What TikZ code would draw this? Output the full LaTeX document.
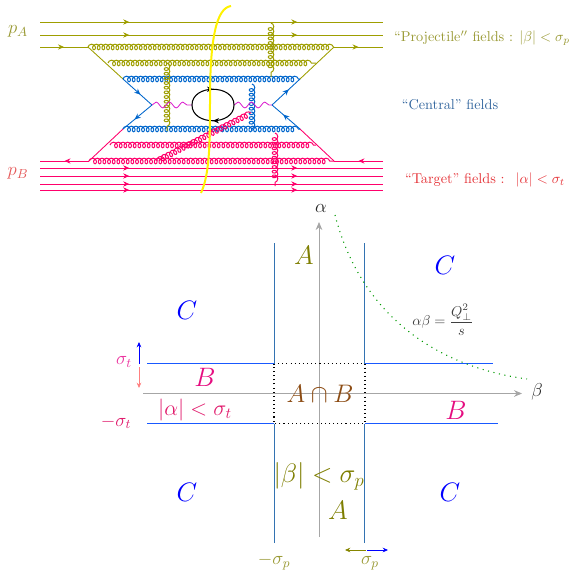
\RequirePackage{fix-cm}
\documentclass[tikz,border=0pt]{standalone}
\usepackage{amsmath}
\usepackage{amssymb}
\usepackage{tikz}
\usetikzlibrary{arrows.meta, decorations.pathmorphing, decorations.markings}

\definecolor{projcol}{rgb}{0.62,0.62,0.0}
\definecolor{targcol}{rgb}{1.0,0.0,0.42}
\definecolor{centcol}{rgb}{0.0,0.40,0.80}
\definecolor{linecol}{rgb}{0.20,0.45,0.70}
\definecolor{horizcol}{rgb}{0.10,0.35,1.0}
\definecolor{brancol}{rgb}{0.55,0.30,0.08}
\definecolor{photcol}{rgb}{0.85,0.10,0.80}
\definecolor{oltext}{rgb}{0.60,0.60,0.20}
\definecolor{cntext}{rgb}{0.20,0.40,0.62}
\definecolor{rdtext}{rgb}{0.90,0.20,0.22}
\definecolor{pbtext}{rgb}{0.90,0.35,0.35}
\definecolor{bregion}{rgb}{0.90,0.05,0.50}
\definecolor{alphatext}{rgb}{0.88,0.10,0.42}
\definecolor{sigtext}{rgb}{0.92,0.20,0.62}

\begin{document}
\begin{tikzpicture}[
    x=0.75pt, y=-0.75pt,
    tip/.style={-{Stealth[length=4pt,width=3.5pt]}},
    arrowat/.style={postaction={decorate, decoration={markings, mark=at position #1 with {\arrow{Stealth[length=4.5pt,width=4pt]}}}}},
    arrowpair/.style 2 args={postaction={decorate, decoration={markings, mark=at position #1 with {\arrow{Stealth[length=4.5pt,width=4pt]}}, mark=at position #2 with {\arrow{Stealth[length=4.5pt,width=4pt]}}}}},
    gluon/.style={decorate, decoration={coil, aspect=0.9, segment length=3.5pt, amplitude=2.1pt}, line width=0.75pt},
    photon/.style={decorate, decoration={snake, segment length=10pt, amplitude=2.2pt}, line width=0.6pt, photcol},
    axisline/.style={gray!70, line width=0.6pt, -{Stealth[length=6pt,width=5pt]}},
    vertline/.style={linecol, line width=0.7pt},
    horizline/.style={horizcol, line width=0.9pt},
    big/.style={font=\fontsize{20}{24}\selectfont},
    mid/.style={font=\fontsize{16.5}{18}\selectfont},
    side/.style={font=\fontsize{14}{16}\selectfont},
    toplabel/.style={font=\fontsize{10.7}{12}\selectfont},
]
\useasboundingbox (0,0) rectangle (571,571);

% ============ Vertices of the diagram ============
\coordinate (pl) at (88,47);
\coordinate (pr) at (334,47);
\coordinate (ql) at (108,63);
\coordinate (qr) at (316,63);
\coordinate (cl) at (123,79);
\coordinate (cr) at (300,79);
\coordinate (dl) at (123,129);
\coordinate (dr) at (300,129);
\coordinate (sl) at (110,145);
\coordinate (sr) at (316,145);
\coordinate (tl) at (89,161);
\coordinate (tr) at (334,161);
\coordinate (vl) at (152,105);
\coordinate (vr) at (272,105);
\coordinate (ll) at (192,105);
\coordinate (lr) at (234,105);

% Projectile lines
\foreach \i/\yy in {1/22, 2/35} {
    \coordinate (pa\i) at (40,\yy);
    \coordinate (pb\i) at (383,\yy);
    \draw[projcol, line width=0.65pt, arrowpair={0.26}{0.75}] (pa\i) -- (pb\i);
}
\coordinate (pin) at (40,47);
\coordinate (pout) at (383,47);
\draw[projcol, line width=0.65pt, arrowat=0.5] (pin) -- (pl);
\draw[projcol, line width=0.65pt, arrowat=0.5] (pr) -- (pout);
\draw[projcol, line width=0.65pt] (pl) -- (cl);
\draw[projcol, line width=0.65pt] (pr) -- (cr);

% Target lines
\foreach \i/\yy in {1/168, 2/176, 3/184, 4/190} {
    \coordinate (ta\i) at (40,\yy);
    \coordinate (tb\i) at (383,\yy);
    \draw[targcol, line width=0.65pt, arrowpair={0.26}{0.75}] (ta\i) -- (tb\i);
}
\coordinate (tin) at (383,161);
\coordinate (tout) at (40,161);
\draw[targcol, line width=0.65pt, arrowat=0.5] (tin) -- (tr);
\draw[targcol, line width=0.65pt, arrowat=0.5] (tl) -- (tout);
\draw[targcol, line width=0.65pt] (tl) -- (dl);
\draw[targcol, line width=0.65pt] (tr) -- (dr);

% Central quark lines
\draw[centcol, line width=0.65pt, arrowat=0.6] (cl) -- (vl);
\draw[centcol, line width=0.65pt, arrowat=0.6] (vr) -- (cr);
\draw[centcol, line width=0.65pt, arrowat=0.6] (vl) -- (dl);
\draw[centcol, line width=0.65pt, arrowat=0.6] (dr) -- (vr);

% Horizontal gluons
\draw[gluon, projcol] (pl) -- (pr);
\draw[gluon, projcol] (ql) -- (qr);
\draw[gluon, centcol] (cl) -- (cr);
\draw[gluon, centcol] (dl) -- (dr);
\draw[gluon, targcol] (sl) -- (sr);
\draw[gluon, targcol] (tl) -- (tr);

% Exchanged gluons
\coordinate (ga) at (167,63);
\coordinate (gb) at (167,131);
\coordinate (gc) at (271,23);
\coordinate (gd) at (271,77);
\coordinate (ge) at (252,84);
\coordinate (gf) at (252,131);
\coordinate (gg) at (275,133);
\coordinate (gh) at (275,186);
\coordinate (gi) at (157,161);
\coordinate (gj) at (251,113);
\draw[gluon, projcol] (ga) -- (gb);
\draw[gluon, projcol] (gc) -- (gd);
\draw[gluon, centcol] (ge) -- (gf);
\draw[gluon, targcol] (gg) -- (gh);
\draw[gluon, targcol] (gi) -- (gj);

% Loop and photons
\draw[photon] (vl) -- (ll);
\draw[photon] (lr) -- (vr);
\draw[black, line width=0.8pt, arrowat=0.5] (ll) .. controls (192,84) and (234,84) .. (lr);
\draw[black, line width=0.8pt, arrowat=0.5] (lr) .. controls (234,126) and (192,126) .. (ll);

% Cut
\coordinate (cuta) at (231,6);
\coordinate (cutb) at (210,100);
\coordinate (cutc) at (201,193);
\draw[yellow, line width=1.5pt] (cuta) .. controls (216,8) and (210,40) .. (cutb) .. controls (210,150) and (209,175) .. (cutc);

% Labels of the diagram
\node[side, text=oltext] (pA) at (18,31) {$p_A$};
\node[side, text=pbtext] (pB) at (18,173) {$p_B$};
\node[toplabel, text=oltext] (projlab) at (482,38) {``Projectile$''$ fields : $|\beta|<\sigma_p$};
\node[toplabel, text=cntext] (centlab) at (450,105) {``Central'' fields};
\node[toplabel, text=rdtext] (targlab) at (485,180) {``Target'' fields : \ $|\alpha|<\sigma_t$};

% ============ Light-cone plane ============
\coordinate (bs) at (143,393.5);
\coordinate (be) at (522,393.5);
\coordinate (as) at (319,537);
\coordinate (ae) at (319,222);
\draw[axisline] (bs) -- (be);
\draw[axisline] (as) -- (ae);

\coordinate (ul) at (274,363.5);
\coordinate (ur) at (365,363.5);
\coordinate (dnl) at (274,423.5);
\coordinate (dnr) at (365,423.5);
\draw[black, dash pattern=on 0.8pt off 2.3pt, line width=0.8pt] (ul) -- (ur) -- (dnr) -- (dnl) -- cycle;

\coordinate (v1) at (274,243);
\coordinate (v2) at (364,243);
\coordinate (v3) at (274,543);
\coordinate (v4) at (364,543);
\coordinate (h1) at (147,363.5);
\coordinate (h2) at (493,363.5);
\coordinate (h3) at (147,423.5);
\coordinate (h4) at (498,423.5);
\draw[vertline] (v1) -- (ul);
\draw[vertline] (v2) -- (ur -| v2);
\draw[vertline] (v3) -- (dnl);
\draw[vertline] (v4) -- (dnr -| v4);
\draw[horizline] (h1) -- (ul);
\draw[horizline] (ur) -- (h2);
\draw[horizline] (h3) -- (dnl);
\draw[horizline] (dnr) -- (h4);

% Hyperbola
\coordinate (ha) at (335,215);
\coordinate (hb) at (527,379);
\draw[green!60!black, dash pattern=on 0.8pt off 3.4pt, line width=0.8pt] (ha) .. controls (358,305) and (425,365) .. (hb);

% Widths
\coordinate (wa) at (139,364);
\coordinate (wb) at (139,342);
\coordinate (wc) at (139,367);
\coordinate (wd) at (139,388);
\coordinate (we) at (366,550);
\coordinate (wf) at (345,550);
\coordinate (wg) at (367,550);
\coordinate (wh) at (388,550);
\draw[tip, blue, line width=0.6pt] (wa) -- (wb);
\draw[tip, red!50!white, line width=0.6pt] (wc) -- (wd);
\draw[tip, projcol!85!black, line width=0.6pt] (we) -- (wf);
\draw[tip, blue, line width=0.6pt] (wg) -- (wh);

% Region labels
\node[big, text=projcol!80!black] (A1) at (304,255) {$A$};
\node[big, text=projcol!80!black] (A2) at (338,510) {$A$};
\node[big, text=blue] (C1) at (187,310) {$C$};
\node[big, text=blue] (C2) at (445,265) {$C$};
\node[big, text=blue] (C3) at (187,492) {$C$};
\node[big, text=blue] (C4) at (450,492) {$C$};
\node[big, text=bregion] (B1) at (205,377) {$B$};
\node[big, text=bregion] (B2) at (456,410) {$B$};
\node[font=\fontsize{19}{22}\selectfont, text=brancol] (AB) at (320,394) {$A\cap B$};
\node[mid, text=alphatext] (alab) at (195,410) {$|\alpha|<\sigma_t$};
\node[big, text=projcol!80!black] (blab) at (319,476) {$|\beta|<\sigma_p$};
\node[side, text=sigtext] (st1) at (124,362) {$\sigma_t$};
\node[side, text=alphatext] (st2) at (116,422) {$-\sigma_t$};
\node[side, text=oltext] (sp1) at (274,562) {$-\sigma_p$};
\node[side, text=oltext] (sp2) at (370,563) {$\sigma_p$};
\node[side, text=black!85] (alpha) at (321,208) {$\alpha$};
\node[side, text=black!85] (beta) at (537,392) {$\beta$};
\node[font=\fontsize{10.7}{12}\selectfont, text=black!75] (hyp) at (443,320) {$\alpha\beta=\dfrac{Q_\perp^2}{s}$};

\end{tikzpicture}
\end{document}
